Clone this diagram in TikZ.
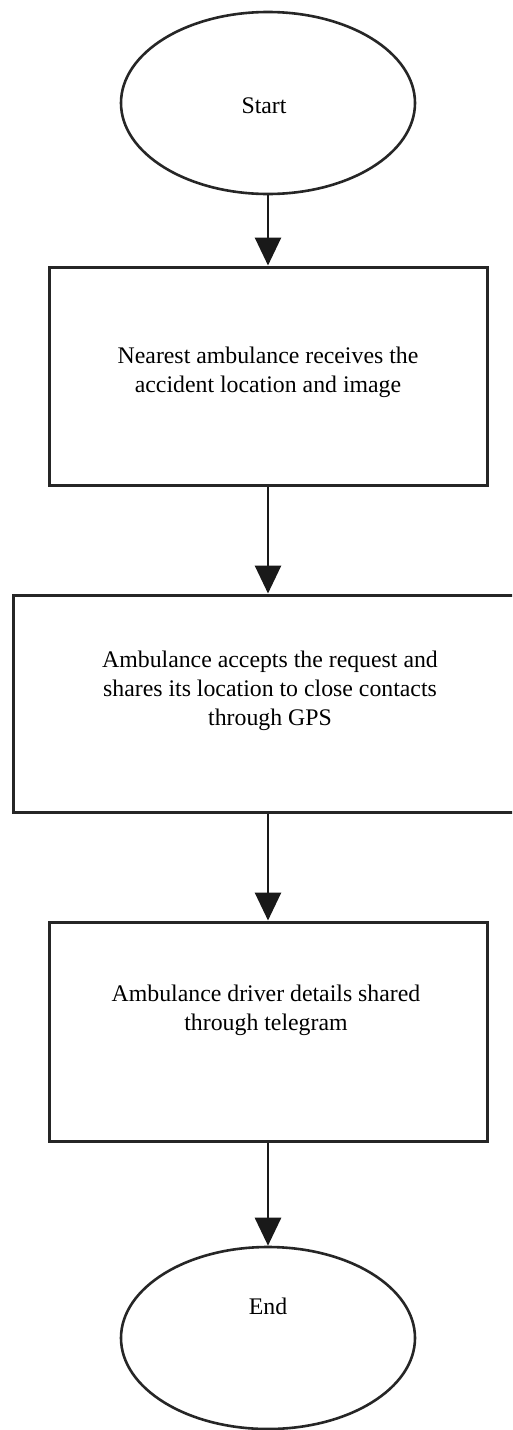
\documentclass[tikz,border=0pt]{standalone}
\usepackage{fontspec}
\setmainfont{Liberation Serif}
\usetikzlibrary{arrows.meta,shapes.geometric}
\begin{document}
\begin{tikzpicture}[x=1pt,y=-1pt,
  term/.style={draw=black!85,line width=2.6pt,ellipse,minimum width=294pt,minimum height=182pt,inner sep=0pt},
  stepbox/.style={draw=black!85,line width=3pt,rectangle,inner sep=0pt},
  txt/.style={font=\fontsize{23.8}{29}\selectfont,align=center,inner sep=0pt,text=black},
  flow/.style={draw=black!90,line width=2.8pt,-{Triangle[length=28pt,width=26pt]}}]
\useasboundingbox (0,0) rectangle (512,1430);
\clip (0,0) rectangle (512,1430);
\fill[white] (0,0) rectangle (512,1430);
% shapes
\node[term] (s) at (268,103) {};
\node[stepbox,minimum width=438pt,minimum height=218pt] (b1) at (268,376) {};
\node[stepbox,minimum width=510pt,minimum height=217pt] (b2) at (268,703.5) {};
\node[stepbox,minimum width=438pt,minimum height=219pt] (b3) at (268,1031.5) {};
\node[term] (e) at (268,1338) {};
% texts
\node[txt] (ts) at (264,106) {Start};
\node[txt] (t1) at (268,372) {Nearest ambulance receives the\\accident location and image};
\node[txt] (t2) at (270,691) {Ambulance accepts the request and\\shares its location to close contacts\\through GPS};
\node[txt] (t3) at (266,1010) {Ambulance driver details shared\\through telegram};
\node[txt] (te) at (268,1306) {End};
% connectors
\draw[flow] (s.south) -- (b1.north);
\draw[flow] (b1.south) -- (b2.north);
\draw[flow] (b2.south) -- (b3.north);
\draw[flow] (b3.south) -- (e.north);
\end{tikzpicture}
\end{document}
